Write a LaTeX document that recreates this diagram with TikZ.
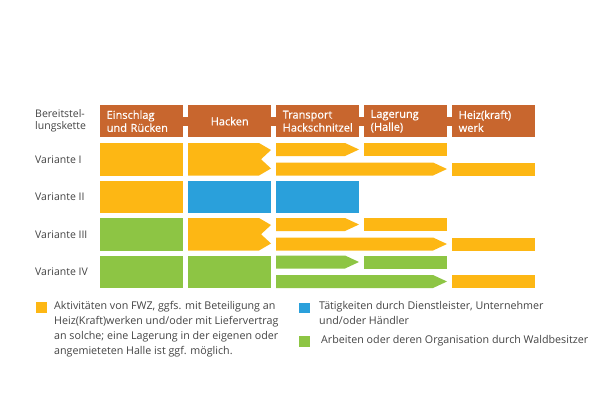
\documentclass[tikz,border=0pt]{standalone}
\usepackage{fontspec}
\setmainfont{Open Sans}
\newfontfamily\hdrfont[FakeBold=0.6]{Open Sans}
\definecolor{hdrc}{RGB}{200,102,46}
\definecolor{orc}{RGB}{253,183,20}
\definecolor{blc}{RGB}{42,160,219}
\definecolor{grc}{RGB}{141,197,68}
\definecolor{txc}{RGB}{68,68,68}
\newcommand\ArrBar[4]{\fill[#4] (#1,#3) -- (#2-14,#3) -- (#2,#3+6.5) -- (#2-14,#3+13) -- (#1,#3+13) -- cycle;}
\newcommand\PlainBar[4]{\fill[#4] (#1,#3) rectangle (#2,#3+13);}
\newcommand\FullBox[3]{\fill[#3] (#1,#2) rectangle (#1+83,#2+32.5);}
\newcommand\HackChev[2]{\fill[#2] (188,#1) -- (259,#1) -- (271,#1+7) -- (261,#1+16.25) -- (271,#1+25.5) -- (259,#1+32.5) -- (188,#1+32.5) -- cycle;}
\begin{document}
\begin{tikzpicture}[x=1pt,y=-1pt,
  every node/.style={font=\fontsize{10.5}{13}\selectfont, text=txc},
  hdr/.style={fill=hdrc, text=white, minimum height=32pt, text width=70pt, inner xsep=6.5pt, inner ysep=0pt, align=left, anchor=north west, font=\hdrfont\fontsize{11}{13}\selectfont},
  rowlab/.style={anchor=west, inner sep=0pt, align=left},
  legtxt/.style={anchor=north west, inner sep=0pt, align=left, font=\fontsize{10.7}{15}\selectfont},
  legsq/.style={minimum size=10.5pt, inner sep=0pt, anchor=north west}]
\useasboundingbox (0,0) rectangle (600,400);
\fill[white] (0,0) rectangle (600,400);
% header
\node[hdr] (h1) at (100,105) {Einschlag\\und Rücken};
\node[hdr, align=center] (h2) at (188,105) {Hacken};
\node[hdr] (h3) at (276,105) {Transport\\Hackschnitzel};
\node[hdr] (h4) at (364,105) {Lagerung\\(Halle)};
\node[hdr] (h5) at (452,105) {Heiz(kraft)\\werk};
\foreach \x in {183,271,359,447} \fill[hdrc] (\x-0.5,116.5) rectangle (\x+5.5,125.5);
% row labels
\node[rowlab, font=\fontsize{10.5}{12.5}\selectfont] (l0) at (35,121) {Bereitstel-\\lungskette};
\node[rowlab] (l1) at (35,159.25) {Variante I};
\node[rowlab] (l2) at (35,196.75) {Variante II};
\node[rowlab] (l3) at (35,234.25) {Variante III};
\node[rowlab] (l4) at (35,271.75) {Variante IV};
% Variante I
\FullBox{100}{143}{orc}
\HackChev{143}{orc}
\ArrBar{276}{359}{143}{orc}
\PlainBar{364}{447}{143}{orc}
\ArrBar{276}{447}{162.5}{orc}
\PlainBar{452}{535}{162.5}{orc}
% Variante II
\FullBox{100}{180.5}{orc}
\FullBox{188}{180.5}{blc}
\FullBox{276}{180.5}{blc}
% Variante III
\FullBox{100}{218}{grc}
\HackChev{218}{orc}
\ArrBar{276}{359}{218}{orc}
\PlainBar{364}{447}{218}{orc}
\ArrBar{276}{447}{237.5}{orc}
\PlainBar{452}{535}{237.5}{orc}
% Variante IV
\FullBox{100}{255.5}{grc}
\FullBox{188}{255.5}{grc}
\ArrBar{276}{359}{255.5}{grc}
\PlainBar{364}{447}{255.5}{grc}
\ArrBar{276}{447}{275}{grc}
\PlainBar{452}{535}{275}{orc}
% legend
\node[legsq, fill=orc] (q1) at (36,302) {};
\node[legtxt] (t1) at (54,301.5) {Aktivitäten von FWZ, ggfs. mit Beteiligung an\\Heiz(Kraft)werken und/oder mit Liefervertrag\\an solche; eine Lagerung in der eigenen oder\\angemieteten Halle ist ggf. möglich.};
\node[legsq, fill=blc] (q2) at (299,302.5) {};
\node[legtxt] (t2) at (319,301.5) {Tätigkeiten durch Dienstleister, Unternehmer\\und/oder Händler};
\node[legsq, fill=grc] (q3) at (299,336) {};
\node[legtxt] (t3) at (321,335.5) {Arbeiten oder deren Organisation durch Waldbesitzer};
\end{tikzpicture}
\end{document}
